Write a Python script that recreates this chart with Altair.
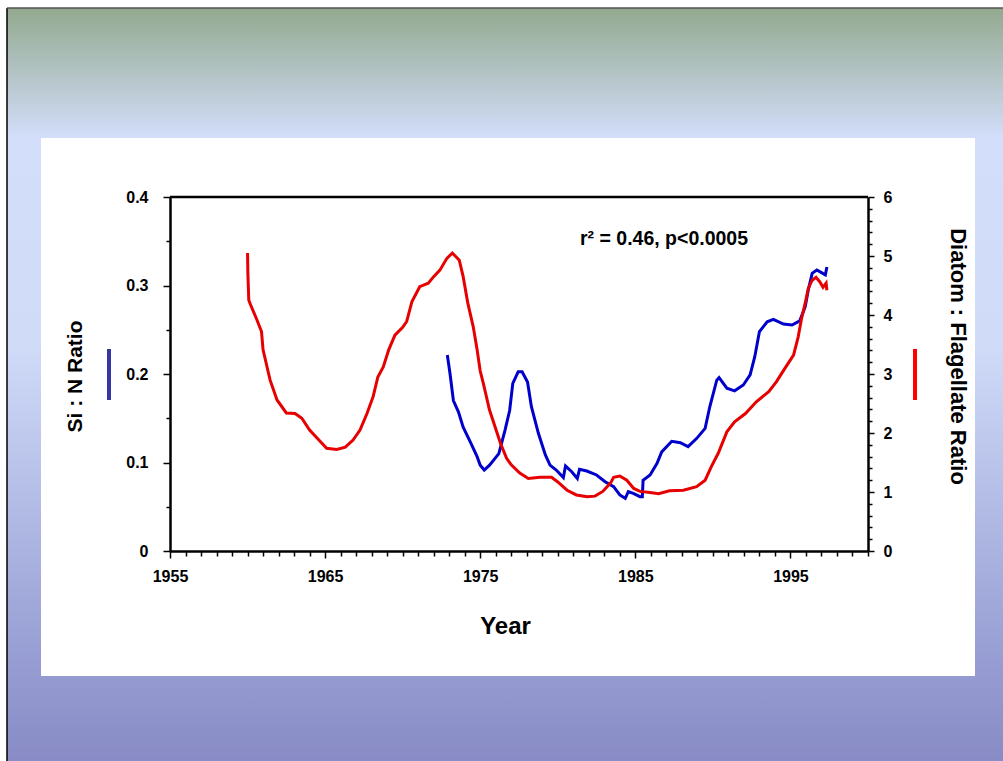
import altair as alt
import pandas as pd

# ---------------- data ----------------
red_years = [1960.0, 1960.02, 1960.08, 1960.2, 1960.6, 1960.9, 1961.0, 1961.45, 1961.9, 1962.5,
             1963.06, 1963.5, 1964.0, 1964.6, 1965.1, 1965.75, 1966.3, 1966.8, 1967.25, 1967.7,
             1968.1, 1968.4, 1968.75, 1969.1, 1969.5, 1970.0, 1970.26, 1970.6, 1971.1, 1971.65,
             1972.0, 1972.4, 1972.85, 1973.2, 1973.65, 1973.9, 1974.2, 1974.55, 1974.8, 1975.0,
             1975.2, 1975.6, 1975.95, 1976.3, 1976.7, 1977.0, 1977.55, 1978.1, 1978.85, 1979.6,
             1980.0, 1980.6, 1981.2, 1981.9, 1982.4, 1982.9, 1983.4, 1983.6, 1984.0, 1984.45,
             1984.9, 1985.3, 1985.95, 1986.5, 1987.2, 1988.1, 1988.95, 1989.5, 1989.9, 1990.35,
             1990.9, 1991.4, 1992.1, 1992.8, 1993.6, 1994.1, 1994.65, 1995.2, 1995.5, 1995.7,
             1995.95, 1996.15, 1996.4, 1996.65, 1996.9, 1997.1, 1997.3, 1997.35]
red_values = [5.05, 4.71, 4.25, 4.17, 3.92, 3.72, 3.41, 2.90, 2.56, 2.34,
              2.33, 2.25, 2.05, 1.88, 1.74, 1.72, 1.76, 1.88, 2.05, 2.33,
              2.62, 2.95, 3.12, 3.41, 3.66, 3.79, 3.89, 4.23, 4.48, 4.54,
              4.65, 4.76, 4.96, 5.05, 4.93, 4.65, 4.20, 3.80, 3.41, 3.05,
              2.84, 2.39, 2.11, 1.83, 1.57, 1.46, 1.32, 1.23, 1.25, 1.25,
              1.17, 1.03, 0.95, 0.92, 0.93, 1.01, 1.15, 1.25, 1.27, 1.20,
              1.06, 1.01, 0.99, 0.97, 1.02, 1.03, 1.09, 1.20, 1.43, 1.66,
              2.02, 2.19, 2.33, 2.53, 2.70, 2.87, 3.10, 3.32, 3.63, 3.92,
              4.20, 4.45, 4.59, 4.64, 4.56, 4.47, 4.54, 4.42]

blue_years = [1972.88, 1973.05, 1973.27, 1973.6, 1973.9, 1974.35, 1974.8, 1975.0, 1975.26, 1975.6,
              1976.2, 1976.6, 1976.9, 1977.1, 1977.45, 1977.7, 1978.05, 1978.3, 1978.75, 1979.2,
              1979.5, 1979.9, 1980.36, 1980.5, 1980.9, 1981.26, 1981.4, 1981.87, 1982.5, 1983.05,
              1983.6, 1984.0, 1984.35, 1984.55, 1984.87, 1985.3, 1985.45, 1985.5, 1985.95, 1986.4,
              1986.7, 1987.35, 1987.9, 1988.4, 1988.96, 1989.5, 1989.8, 1990.25, 1990.4, 1990.9,
              1991.4, 1991.96, 1992.4, 1992.7, 1993.0, 1993.5, 1993.9, 1994.55, 1995.1, 1995.6,
              1995.95, 1996.15, 1996.4, 1996.7, 1997.0, 1997.25, 1997.35]
blue_values = [0.2215, 0.2008, 0.170, 0.157, 0.140, 0.1235, 0.1066, 0.097, 0.0915, 0.097,
               0.110, 0.1367, 0.159, 0.1895, 0.2026, 0.2026, 0.191, 0.163, 0.133, 0.1085,
               0.097, 0.0915, 0.083, 0.096, 0.0896, 0.082, 0.0923, 0.0904, 0.0859, 0.0783,
               0.0727, 0.0633, 0.0595, 0.067, 0.0652, 0.0614, 0.0614, 0.080, 0.0859, 0.099,
               0.112, 0.124, 0.1224, 0.118, 0.1273, 0.1386, 0.163, 0.193, 0.196, 0.184,
               0.181, 0.1876, 0.199, 0.2196, 0.2478, 0.259, 0.2618, 0.2565, 0.2554, 0.260,
               0.276, 0.295, 0.3138, 0.3175, 0.3145, 0.312, 0.321]

x_ticks = list(range(1955, 2001))
left_ticks = [round(i * 0.05, 2) for i in range(9)]
right_ticks = [round(i * 0.2, 1) for i in range(31)]

annotation = "r\u00b2 = 0.46, p<0.0005"
left_title = "Si : N Ratio"
right_title = "Diatom : Flagellate Ratio"
x_title = "Year"

FONT = "Liberation Sans"
W, H = 698, 354
PL, PT = 170, 197

red_df = pd.DataFrame({"year": red_years, "ratio": red_values, "i": range(len(red_years))})
blue_df = pd.DataFrame({"year": blue_years, "sin": blue_values, "i": range(len(blue_years))})
one = pd.DataFrame({"a": [0]})

# ---------------- decorations ----------------
bg = alt.Chart(one).mark_rect(
    color=alt.Gradient(
        gradient="linear", x1=0, y1=0, x2=0, y2=1,
        stops=[alt.GradientStop(color="#93a98f", offset=0),
               alt.GradientStop(color="#d3defb", offset=0.173),
               alt.GradientStop(color="#d0dbf8", offset=0.45),
               alt.GradientStop(color="#9aa1d5", offset=0.84),
               alt.GradientStop(color="#888bc5", offset=1)]
    )
).encode(x=alt.value(7 - PL), x2=alt.value(1003 - PL), y=alt.value(8 - PT), y2=alt.value(761 - PT))

white = alt.Chart(one).mark_rect(color="white").encode(
    x=alt.value(41 - PL), x2=alt.value(975 - PL), y=alt.value(138 - PT), y2=alt.value(676 - PT))

left_border = alt.Chart(one).mark_rule(color="black", strokeWidth=1.5).encode(
    x=alt.value(7 - PL), y=alt.value(8 - PT), y2=alt.value(761 - PT))
top_border = alt.Chart(one).mark_rule(color="#555555", strokeWidth=1.5).encode(
    x=alt.value(7 - PL), x2=alt.value(1003 - PL), y=alt.value(8 - PT))

top_frame = alt.Chart(one).mark_rule(color="black", strokeWidth=2.5).encode(
    x=alt.value(0), x2=alt.value(W), y=alt.value(0))

blue_bar = alt.Chart(one).mark_rule(color="#3535a5", strokeWidth=4).encode(
    x=alt.value(109 - PL), y=alt.value(349 - PT), y2=alt.value(400 - PT))
red_bar = alt.Chart(one).mark_rule(color="#ff0000", strokeWidth=4).encode(
    x=alt.value(915 - PL), y=alt.value(349 - PT), y2=alt.value(400 - PT))

note = alt.Chart(one).mark_text(
    text=annotation, font=FONT, fontSize=19.5, fontWeight="bold", color="black",
    align="center", baseline="middle"
).encode(x=alt.value(664 - PL), y=alt.value(239 - PT))

# ---------------- axes ----------------
common_axis = dict(
    zindex=1, grid=False, domainColor="black", domainWidth=2.5,
    tickColor="black", tickWidth=1.5, labelColor="black",
    labelFont=FONT, labelFontSize=16, labelFontWeight="bold",
    titleFont=FONT, titleFontWeight="bold", titleColor="black",
)

x_axis = alt.Axis(
    values=x_ticks, format="d",
    labelExpr="((datum.value - 1955) % 10 == 0) ? datum.label : ''",
    tickSize={"condition": {"test": "(datum.value - 1955) % 10 == 0", "value": 7}, "value": 5},
    labelPadding=10, labelFlush=False, labelOverlap=False,
    title=x_title, titleFontSize=24, titleX=505 - PL, titleY=626 - 551,
    titleAlign="center", titleBaseline="middle", **common_axis)

left_axis = alt.Axis(
    values=left_ticks, format=".1~f", orient="left",
    labelExpr="(round(datum.value * 100) % 10 == 0) ? datum.label : ''",
    tickSize={"condition": {"test": "round(datum.value * 100) % 10 == 0", "value": 7}, "value": 4},
    labelPadding=15, labelOverlap=False, labelFlush=False,
    title=left_title, titleFontSize=21, titleAngle=270, titleX=75 - PL, titleY=376 - PT,
    titleAlign="center", titleBaseline="middle", **common_axis)

right_axis = alt.Axis(
    values=right_ticks, format=".1~f", orient="right",
    labelExpr="(round(datum.value * 10) % 10 == 0) ? datum.label : ''",
    tickSize={"condition": {"test": "round(datum.value * 10) % 10 == 0", "value": 6}, "value": 4},
    labelPadding=9, labelOverlap=False, labelFlush=False,
    title=right_title, titleFontSize=22, titleAngle=90, titleX=957 - (PL + W), titleY=356 - PT,
    titleAlign="center", titleBaseline="middle", **common_axis)

xscale = alt.Scale(domain=[1955, 2000], nice=False, zero=False)

blue_line = alt.Chart(blue_df).mark_line(color="#0000cc", strokeWidth=3).encode(
    x=alt.X("year:Q", scale=xscale, axis=x_axis),
    y=alt.Y("sin:Q", scale=alt.Scale(domain=[0, 0.4], nice=False), axis=left_axis),
    order="i:Q")

red_line = alt.Chart(red_df).mark_line(color="#e60000", strokeWidth=3).encode(
    x=alt.X("year:Q", scale=xscale, axis=x_axis),
    y=alt.Y("ratio:Q", scale=alt.Scale(domain=[0, 6], nice=False), axis=right_axis),
    order="i:Q")

chart = alt.layer(
    bg, white, left_border, top_border, blue_bar, red_bar, note, top_frame, blue_line, red_line
).resolve_scale(y="independent").properties(
    width=W, height=H,
    autosize=alt.AutoSizeParams(type="none"),
    padding={"left": PL, "top": PT, "right": 1003 - PL - W, "bottom": 761 - PT - H},
).configure_view(stroke=None).configure(background="white")

chart.save("out.html", embed_options={"renderer": "svg", "actions": False})
